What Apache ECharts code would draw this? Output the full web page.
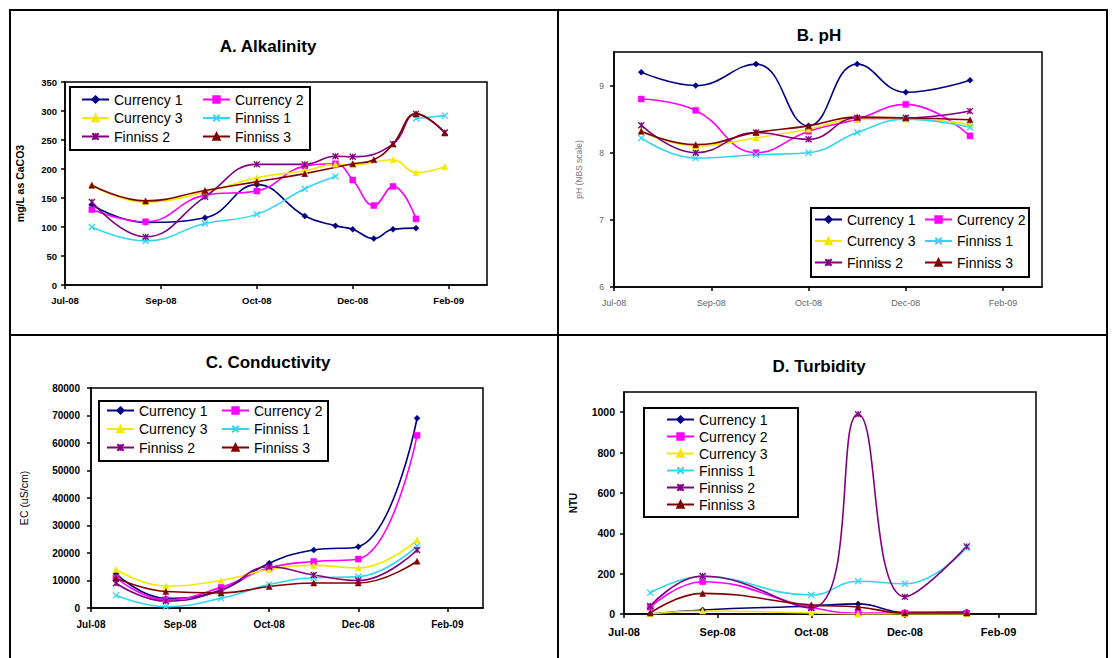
<!DOCTYPE html>
<html>
<head>
<meta charset="utf-8">
<script src="https://cdn.jsdelivr.net/npm/echarts@6/dist/echarts.min.js"></script>
<style>
html,body{margin:0;padding:0;background:#fff;}
#chart{width:1112px;height:658px;}
</style>
</head>
<body>
<div id="chart"></div>
<script>
// ---------- DATA ----------
const seriesNames = ['Currency 1','Currency 2','Currency 3','Finniss 1','Finniss 2','Finniss 3'];
const xTickLabels = ['Jul-08','Sep-08','Oct-08','Dec-08','Feb-09'];
const panelTitles = ['A. Alkalinity','B. pH','C. Conductivity','D. Turbidity'];
const yAxisNames = ['mg/L as CaCO3','pH (NBS scale)','EC (uS/cm)','NTU'];

// A. Alkalinity
const datesA = ['2008-08-04','2008-09-01','2008-10-02','2008-10-29','2008-11-23','2008-12-09','2008-12-18','2008-12-29','2009-01-08','2009-01-20','2009-02-04'];
const alkCurrency1 = [138, 108, 116, 173, 119, 102, 96, 80, 96, 98, null];
const alkCurrency2 = [130, 109, 155, 162, 205, 209, 181, 137, 170, 114, null];
const alkCurrency3 = [172, 143, 160, 185, 197, 208, 207, null, 216, 194, 204];
const alkFinniss1  = [100, 76, 106, 122, 166, 187, null, null, null, 287, 292];
const alkFinniss2  = [143, 83, 152, 208, 208, 222, 221, null, 243, 295, 263];
const alkFinniss3  = [172, 145, 163, 178, 192, null, 209, 216, 243, 295, 262];

// B. pH
const datesB = ['2008-08-04','2008-09-01','2008-10-02','2008-10-29','2008-11-23','2008-12-18','2009-01-20'];
const phCurrency1 = [9.2, 9.0, 9.32, 8.4, 9.32, 8.9, 9.08];
const phCurrency2 = [8.8, 8.63, 8.0, 8.32, 8.5, 8.72, 8.25];
const phCurrency3 = [8.32, 8.1, 8.22, 8.35, 8.5, 8.5, 8.42];
const phFinniss1  = [8.22, 7.92, 7.97, 8.0, 8.3, 8.5, 8.38];
const phFinniss2  = [8.41, 8.0, 8.3, 8.2, 8.52, 8.52, 8.62];
const phFinniss3  = [8.32, 8.12, 8.3, 8.4, 8.53, 8.52, 8.49];

// C. Conductivity
const datesC = ['2008-08-04','2008-09-01','2008-10-02','2008-10-29','2008-11-23','2008-12-18','2009-01-20'];
const ecCurrency1 = [12500, 3500, 6500, 16300, 21100, 22300, 69000];
const ecCurrency2 = [11000, 3000, 7500, 14600, 16900, 17800, 62800];
const ecCurrency3 = [14000, 8000, 10000, 14000, 15500, 14600, 24700];
const ecFinniss1  = [4600, 500, 3500, 8500, 11000, 11400, 22500];
const ecFinniss2  = [9000, 2500, 6500, 15000, 12000, 10000, 21100];
const ecFinniss3  = [10900, 6000, 5500, 7800, 9100, 9100, 17000];

// D. Turbidity
const datesD = ['2008-08-04','2008-09-01','2008-10-29','2008-11-23','2008-12-18','2009-01-20'];
const ntuCurrency1 = [0, 20, 40, 50, 8, 10];
const ntuCurrency2 = [33, 160, 33, 5, 5, 5];
const ntuCurrency3 = [0, 15, 5, 0, 0, 0];
const ntuFinniss1  = [105, 185, 94, 162, 150, 328];
const ntuFinniss2  = [40, 188, 30, 990, 85, 335];
const ntuFinniss3  = [5, 102, 45, 35, 5, 5];

// ---------- helpers ----------
const X_MIN = 39650, X_MAX = 39870, X_STEP = 50; // Excel date serials
function serial(iso){
  const p = iso.split('-').map(Number);
  return Math.round((Date.UTC(p[0],p[1]-1,p[2]) - Date.UTC(1899,11,30))/86400000);
}
function xLabel(v){
  const k = (v - X_MIN)/X_STEP;
  return (Number.isInteger(k) && k < xTickLabels.length) ? xTickLabels[k] : '';
}
function yLabel(v){ return String(v); }
const FONT = 'Arial, "Liberation Sans", sans-serif';
const colors = ['#000080','#FF00FF','#F0EA00','#33D6F0','#800080','#800000'];
const symbols = ['diamond','rect','triangle','path://M0,0L10,10M10,0L0,10','path://M0,0L10,10M10,0L0,10M5,0L5,10','triangle'];

const panels = [
  {dates: datesA, vals: [alkCurrency1,alkCurrency2,alkCurrency3,alkFinniss1,alkFinniss2,alkFinniss3], gaps:[false,false,false,true,false,false]},
  {dates: datesB, vals: [phCurrency1,phCurrency2,phCurrency3,phFinniss1,phFinniss2,phFinniss3], gaps:[false,false,false,false,false,false]},
  {dates: datesC, vals: [ecCurrency1,ecCurrency2,ecCurrency3,ecFinniss1,ecFinniss2,ecFinniss3], gaps:[false,false,false,false,false,false]},
  {dates: datesD, vals: [ntuCurrency1,ntuCurrency2,ntuCurrency3,ntuFinniss1,ntuFinniss2,ntuFinniss3], gaps:[false,false,false,false,false,false]}
];

const grids = [
  {left: 65, top: 82, width: 422, height: 203},
  {left: 614, top: 52, width: 428, height: 235},
  {left: 91, top: 388, width: 392, height: 220},
  {left: 624, top: 392, width: 412, height: 222}
];
const yCfg = [
  {min: 0, max: 350, interval: 50, font: 9.5, bold: 'bold', color: '#000', margin: 8, nameGap: 40, nameSize: 10.5, nameBold: 'bold', nameColor:'#000'},
  {min: 6, max: 9.5, interval: 1, font: 8.5, bold: 'normal', color: '#666', margin: 10, nameGap: 31, nameSize: 8.5, nameBold: 'normal', nameColor:'#777'},
  {min: 0, max: 80000, interval: 10000, font: 10, bold: 'bold', color: '#000', margin: 11, nameGap: 62, nameSize: 10.5, nameBold: 'normal', nameColor:'#000'},
  {min: 0, max: 1100, interval: 200, font: 10.5, bold: 'bold', color: '#000', margin: 9, nameGap: 46, nameSize: 10, nameBold: 'bold', nameColor:'#000'}
];
const xCfg = [
  {font: 9.5, bold: 'bold', color: '#000', margin: 10},
  {font: 9, bold: 'normal', color: '#666', margin: 11},
  {font: 10, bold: 'bold', color: '#000', margin: 11},
  {font: 11, bold: 'bold', color: '#000', margin: 12}
];
const titlePos = [[268, 38], [819, 27], [268, 354], [819, 358]];

const option = {
  animation: false,
  backgroundColor: '#fff',
  textStyle: {fontFamily: FONT},
  title: panelTitles.map((t, i) => ({
    text: t, left: titlePos[i][0], top: titlePos[i][1], textAlign: 'center', padding: 0,
    textStyle: {fontFamily: FONT, fontSize: 17, fontWeight: 'bold', color: '#000'}
  })),
  grid: grids.map(g => Object.assign({show: true, borderColor: '#000', borderWidth: 1.5, backgroundColor: '#fff'}, g)),
  xAxis: grids.map((g, i) => ({
    type: 'value', gridIndex: i, min: X_MIN, max: X_MAX, interval: X_STEP,
    splitLine: {show: false},
    axisLine: {show: true, onZero: false, lineStyle: {color: '#000', width: 1.5}},
    axisTick: {show: true, length: 4, lineStyle: {color: '#000', width: 1.5}},
    axisLabel: {formatter: xLabel, showMaxLabel: false, fontSize: xCfg[i].font, fontWeight: xCfg[i].bold, color: xCfg[i].color, margin: xCfg[i].margin, fontFamily: FONT}
  })),
  yAxis: grids.map((g, i) => ({
    type: 'value', gridIndex: i, min: yCfg[i].min, max: yCfg[i].max, interval: yCfg[i].interval,
    name: yAxisNames[i], nameLocation: 'middle', nameGap: yCfg[i].nameGap, nameRotate: 90,
    nameTextStyle: {fontSize: yCfg[i].nameSize, fontWeight: yCfg[i].nameBold, color: yCfg[i].nameColor, fontFamily: FONT},
    splitLine: {show: false},
    axisLine: {show: true, lineStyle: {color: '#000', width: 1.5}},
    axisTick: {show: true, length: 4, lineStyle: {color: '#000', width: 1.5}},
    axisLabel: {formatter: yLabel, showMaxLabel: (i === 0 || i === 2), fontSize: yCfg[i].font, fontWeight: yCfg[i].bold, color: yCfg[i].color, margin: yCfg[i].margin, fontFamily: FONT}
  })),
  legend: [],
  graphic: [],
  series: []
};

panels.forEach((p, pi) => {
  p.vals.forEach((vals, si) => {
    const isPath = symbols[si].indexOf('path://') === 0;
    option.series.push({
      type: 'line', name: seriesNames[si], xAxisIndex: pi, yAxisIndex: pi,
      data: p.dates.map((d, k) => [serial(d), vals[k] === null ? '-' : vals[k]]),
      smooth: 0.45, connectNulls: !p.gaps[si],
      symbol: symbols[si], symbolSize: 6,
      lineStyle: {color: colors[si], width: 1.6},
      itemStyle: {color: colors[si], borderColor: colors[si], borderWidth: isPath ? 1.3 : 0.5},
      emphasis: {disabled: true}
    });
  });
});

// legends
function legend(items, left, top, gap, size) {
  return {
    data: items, orient: 'vertical', left: left, top: top, padding: 0, itemGap: gap,
    itemWidth: 27, itemHeight: 8, selectedMode: false,
    textStyle: {fontSize: size, fontFamily: FONT, color: '#000', lineHeight: 15, padding: [0,0,0,0]}
  };
}
const colA = [seriesNames[0], seriesNames[2], seriesNames[4]];
const colB = [seriesNames[1], seriesNames[3], seriesNames[5]];
option.legend.push(legend(colA, 81, 92, 3.5, 14), legend(colB, 202, 92, 3.5, 14));
option.legend.push(legend(colA, 814, 212, 6.5, 14), legend(colB, 924, 212, 6.5, 14));
option.legend.push(legend(colA, 106, 403, 3.5, 14), legend(colB, 221, 403, 3.5, 14));
option.legend.push(legend(seriesNames, 666, 412, 2, 14));

// legend boxes and frame
const boxes = [[70, 87, 240, 63], [811, 208, 218, 69], [99, 401, 229, 60], [644, 408, 154, 109]];
boxes.forEach(b => option.graphic.push({type: 'rect', z: 50, shape: {x: b[0], y: b[1], width: b[2], height: b[3]}, style: {fill: 'rgba(255,255,255,0)', stroke: '#000', lineWidth: 2}}));
option.graphic.push(
  {type: 'rect', z: 50, shape: {x: 10, y: 10, width: 1097, height: 680}, style: {fill: 'rgba(0,0,0,0)', stroke: '#000', lineWidth: 2}},
  {type: 'line', z: 50, shape: {x1: 558, y1: 10, x2: 558, y2: 690}, style: {stroke: '#000', lineWidth: 2}},
  {type: 'line', z: 50, shape: {x1: 10, y1: 335, x2: 1107, y2: 335}, style: {stroke: '#000', lineWidth: 2}}
);

const chart = echarts.init(document.getElementById('chart'), null, {renderer: 'svg'});
chart.setOption(option);
</script>
</body>
</html>
